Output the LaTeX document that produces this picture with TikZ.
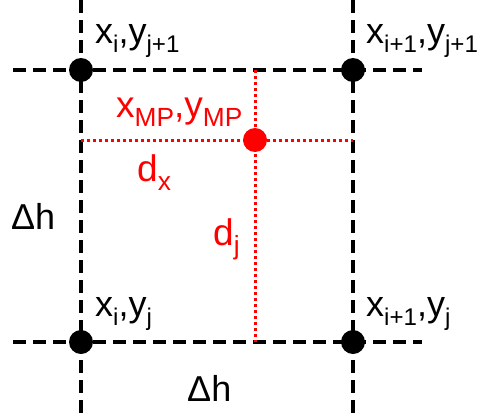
\documentclass[tikz,border=0pt]{standalone}
\usepackage{fontspec}
\usepackage{graphicx}
\setmainfont{Liberation Sans}
\newcommand{\sbs}[1]{\raisebox{-0.27em}{\scalebox{0.67}{#1}}}
\newcommand{\rsbs}[1]{\raisebox{-0.27em}{\scalebox{0.71}{#1}}}
\begin{document}
\begin{tikzpicture}[x=1pt,y=-1pt,
  grid/.style={line width=3.2pt,dash pattern=on 13pt off 7pt},
  guide/.style={red,line width=3pt,dash pattern=on 3pt off 3pt},
  gdot/.style={circle,fill=black,inner sep=0pt,minimum size=24pt},
  rdot/.style={circle,fill=red,inner sep=0pt,minimum size=24pt},
  lbl/.style={anchor=base west,inner sep=0pt,font=\fontsize{36}{42}\selectfont},
  rlbl/.style={anchor=base west,inner sep=0pt,text=red,font=\fontsize{37}{43}\selectfont}]
\useasboundingbox (0,0) rectangle (487,415);
% grid lines
\coordinate (lt) at (81,0);   \coordinate (lb) at (81,413);
\coordinate (rt) at (353,0);  \coordinate (rb) at (353,413);
\coordinate (tl) at (13,70);  \coordinate (tr) at (422,70);
\coordinate (bl) at (13,342); \coordinate (br) at (422,342);
\draw[grid] (lt) -- (lb);
\draw[grid] (rt) -- (rb);
\draw[grid] (tl) -- (tr);
\draw[grid] (bl) -- (br);
% red guides
\coordinate (gl) at (81,140);  \coordinate (gr) at (353,140);
\coordinate (gt) at (255,70);  \coordinate (gb) at (255,342);
\draw[guide] (gl) -- (gr);
\draw[guide] (gt) -- (gb);
% dots
\node[gdot] (p11) at (81,70) {};
\node[gdot] (p21) at (353,70) {};
\node[gdot] (p10) at (81,342) {};
\node[gdot] (p20) at (353,342) {};
\node[rdot] (mp) at (255,140) {};
% labels
\node[lbl] (l11) at (95,43) {x\sbs{i},y\sbs{j+1}};
\node[lbl] (l21) at (366,43) {x\sbs{i+1},y\sbs{j+1}};
\node[lbl] (l10) at (95,316) {x\sbs{i},y\sbs{j}};
\node[lbl] (l20) at (366,316) {x\sbs{i+1},y\sbs{j}};
\node[lbl] (dhl) at (11,229) {Δh};
\node[lbl] (dhb) at (187,401) {Δh};
\node[rlbl] (lmp) at (116,117) {x\rsbs{MP},y\rsbs{MP}};
\node[rlbl] (ldx) at (137,181) {d\rsbs{x}};
\node[rlbl] (ldj) at (213,245) {d\rsbs{j}};
\end{tikzpicture}
\end{document}
